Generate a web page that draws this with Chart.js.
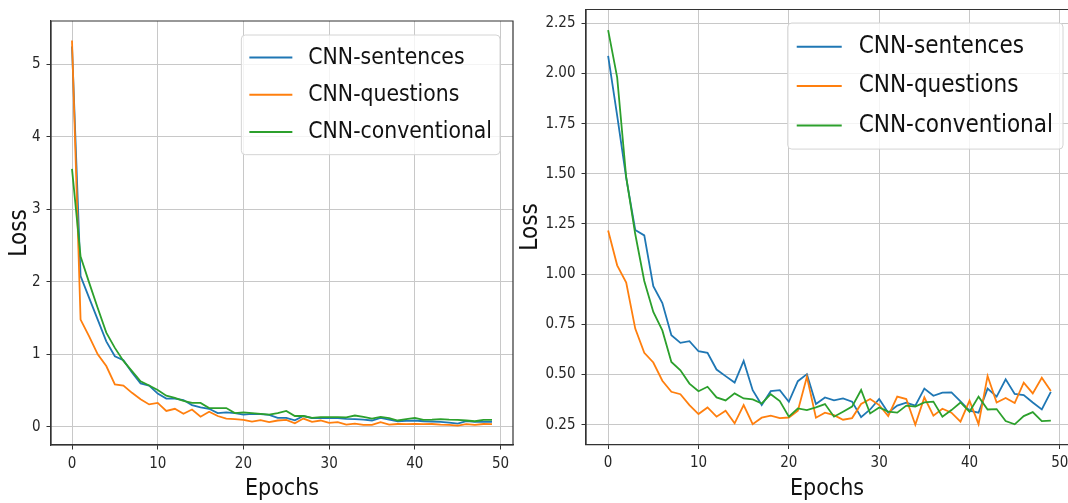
<!DOCTYPE html>
<html>
<head>
<meta charset="utf-8">
<script src="https://cdn.jsdelivr.net/npm/chart.js@4.4.1/dist/chart.umd.min.js"></script>
<style>
  html, body { margin: 0; padding: 0; background: #fff; overflow: hidden; }
  #wrap { position: relative; width: 1068px; height: 503px; overflow: hidden; }
  canvas { position: absolute; top: 0; }
</style>
</head>
<body>
<div id="wrap">
  <canvas id="lossLeft" width="534" height="503" style="left:0"></canvas>
  <canvas id="lossRight" width="553" height="503" style="left:515px"></canvas>
</div>
<script>
const epochs = [0, 1, 2, 3, 4, 5, 6, 7, 8, 9, 10, 11, 12, 13, 14, 15, 16, 17, 18, 19,
  20, 21, 22, 23, 24, 25, 26, 27, 28, 29, 30, 31, 32, 33, 34, 35, 36, 37, 38, 39,
  40, 41, 42, 43, 44, 45, 46, 47, 48, 49]

const seriesNames = ["CNN-sentences", "CNN-questions", "CNN-conventional"]

// left panel
const sentencesLeft = [5.25, 2.08, 1.78, 1.48, 1.18, 0.975, 0.92, 0.75, 0.6, 0.57,
  0.46, 0.39, 0.39, 0.37, 0.3, 0.27, 0.25, 0.19, 0.2, 0.19,
  0.17, 0.18, 0.175, 0.166, 0.124, 0.124, 0.09, 0.15, 0.12, 0.124,
  0.12, 0.12, 0.11, 0.106, 0.1, 0.088, 0.124, 0.1, 0.078, 0.083,
  0.088, 0.078, 0.074, 0.069, 0.06, 0.046, 0.078, 0.069, 0.069, 0.07]
const questionsLeft = [5.33, 1.48, 1.25, 1.0, 0.84, 0.585, 0.57, 0.47, 0.38, 0.31,
  0.33, 0.22, 0.25, 0.18, 0.24, 0.14, 0.21, 0.15, 0.115, 0.106,
  0.097, 0.074, 0.092, 0.065, 0.088, 0.097, 0.05, 0.115, 0.07, 0.088,
  0.055, 0.065, 0.032, 0.046, 0.028, 0.028, 0.065, 0.032, 0.04, 0.037,
  0.04, 0.037, 0.04, 0.032, 0.028, 0.018, 0.037, 0.028, 0.04, 0.037]
const conventionalLeft = [3.56, 2.35, 1.99, 1.64, 1.3, 1.09, 0.91, 0.77, 0.63, 0.57,
  0.51, 0.43, 0.4, 0.36, 0.33, 0.33, 0.26, 0.26, 0.26, 0.19,
  0.2, 0.19, 0.18, 0.17, 0.19, 0.22, 0.15, 0.15, 0.124, 0.134,
  0.134, 0.134, 0.13, 0.157, 0.138, 0.115, 0.138, 0.12, 0.088, 0.106,
  0.124, 0.097, 0.1, 0.106, 0.1, 0.097, 0.088, 0.078, 0.097, 0.097]

// right panel
const sentencesRight = [2.088, 1.79, 1.48, 1.22, 1.193, 0.94, 0.856, 0.696, 0.658, 0.666,
  0.616, 0.608, 0.525, 0.492, 0.46, 0.568, 0.422, 0.348, 0.417, 0.422,
  0.364, 0.467, 0.502, 0.353, 0.386, 0.371, 0.381, 0.365, 0.288, 0.326,
  0.378, 0.31, 0.345, 0.36, 0.345, 0.43, 0.394, 0.41, 0.411, 0.366,
  0.32, 0.31, 0.43, 0.39, 0.476, 0.403, 0.398, 0.361, 0.326, 0.414]
const questionsRight = [1.218, 1.044, 0.958, 0.729, 0.608, 0.56, 0.469, 0.414, 0.402, 0.348,
  0.303, 0.336, 0.29, 0.32, 0.257, 0.348, 0.253, 0.285, 0.295, 0.283,
  0.286, 0.32, 0.489, 0.285, 0.31, 0.298, 0.275, 0.283, 0.353, 0.378,
  0.348, 0.293, 0.39, 0.378, 0.25, 0.386, 0.295, 0.33, 0.31, 0.265,
  0.37, 0.253, 0.493, 0.361, 0.383, 0.358, 0.46, 0.406, 0.484, 0.418]
const conventionalRight = [2.216, 1.98, 1.483, 1.2, 0.966, 0.812, 0.72, 0.563, 0.521, 0.455,
  0.417, 0.439, 0.386, 0.371, 0.406, 0.381, 0.376, 0.356, 0.402, 0.368,
  0.29, 0.331, 0.323, 0.336, 0.353, 0.29, 0.315, 0.34, 0.423, 0.306,
  0.336, 0.315, 0.31, 0.345, 0.34, 0.361, 0.365, 0.29, 0.323, 0.361,
  0.315, 0.39, 0.326, 0.328, 0.268, 0.252, 0.293, 0.313, 0.268, 0.27]

const xTicks = [0, 10, 20, 30, 40, 50]
const yTicksLeft = [0, 1, 2, 3, 4, 5]
const yTicksRight = [0.25, 0.5, 0.75, 1.0, 1.25, 1.5, 1.75, 2.0, 2.25]

const colors = ["#1f77b4", "#ff7f0e", "#2ca02c"]
const labelFont = "'DejaVu Sans Condensed', 'DejaVu Sans'"

/**
 * Matplotlib style frame: spines around the plot area
 * (the right panel is cut off at the page edge, so its right spine is not drawn)
 */
const frame = {
  id: "frame",
  afterDraw(chart, args, opts) {
    const {ctx, chartArea: a} = chart
    ctx.save()
    ctx.strokeStyle = "#333"
    ctx.lineWidth = 1.2
    ctx.beginPath()
    ctx.moveTo(a.left, a.top)
    ctx.lineTo(a.right, a.top)
    if (opts.right !== false) ctx.lineTo(a.right, a.bottom)
    else ctx.moveTo(a.right, a.bottom)
    ctx.lineTo(a.left, a.bottom)
    ctx.lineTo(a.left, a.top)
    ctx.stroke()
    ctx.restore()
  }
}

/**
 * Legend drawn inside the plot area, in a rounded translucent box
 */
const boxLegend = {
  id: "boxLegend",
  afterDraw(chart, args, opts) {
    const {ctx, chartArea: a} = chart
    const sets = chart.data.datasets
    ctx.save()
    ctx.font = `${opts.size}px ${labelFont}`
    const textW = Math.max(...sets.map(d => ctx.measureText(d.label).width))
    const rowH = opts.size * 1.64
    const w = opts.textX + textW + opts.pad
    const h = rowH * sets.length + 8
    const x = a.right - opts.right - w
    const y = a.top + opts.top

    ctx.beginPath()
    ctx.roundRect(x, y, w, h, 4)
    ctx.fillStyle = "rgba(255,255,255,0.8)"
    ctx.fill()
    ctx.strokeStyle = "#d4d4d4"
    ctx.lineWidth = 1
    ctx.stroke()

    sets.forEach((d, i) => {
      const cy = y + 4 + rowH * i + rowH / 2
      ctx.strokeStyle = d.borderColor
      ctx.lineWidth = 2
      ctx.beginPath()
      ctx.moveTo(x + opts.handleX, cy)
      ctx.lineTo(x + opts.handleX + opts.handleLen, cy)
      ctx.stroke()
      ctx.fillStyle = "#111"
      ctx.textBaseline = "middle"
      ctx.textAlign = "left"
      ctx.fillText(d.label, x + opts.textX, cy)
    })
    ctx.restore()
  }
}

const makeDataset = (label, values, color, order) => ({
  label: label,
  data: values.map((v, i) => ({x: epochs[i], y: v})),
  borderColor: color,
  backgroundColor: color,
  borderWidth: 1.8,
  pointRadius: 0,
  tension: 0,
  order: order
})

const noEdgePadding = scale => {
  scale.paddingTop = 0
  scale.paddingBottom = 0
  scale.paddingLeft = 0
  scale.paddingRight = 0
}

const plotLoss = (ctx, series, cfg) => {
  new Chart(ctx, {
    type: "line",
    data: {
      datasets: series.map((s, i) => makeDataset(seriesNames[i], s, colors[i], 2 - i))
    },
    options: {
      responsive: false,
      animation: false,
      devicePixelRatio: 1,
      layout: {padding: {left: 0, right: cfg.padRight, top: cfg.padTop, bottom: 0}},
      plugins: {
        legend: {display: false},
        tooltip: {enabled: false},
        frame: {right: cfg.rightSpine},
        boxLegend: cfg.legend
      },
      scales: {
        x: {
          type: "linear",
          min: -2.45,
          max: cfg.xMax,
          afterBuildTicks: scale => { scale.ticks = xTicks.map(v => ({value: v})) },
          afterFit: scale => { scale.height = cfg.xHeight; noEdgePadding(scale) },
          ticks: {font: {family: labelFont, size: 15}, color: "#262626", padding: 5.5},
          grid: {color: "#c8c8c8", lineWidth: 1, tickColor: "#333", tickLength: 4.5},
          border: {color: "#333", width: 1.2},
          title: {
            display: true,
            text: "Epochs",
            font: {family: labelFont, size: 23},
            color: "#111",
            padding: {top: 0, bottom: 0}
          }
        },
        y: {
          min: cfg.yMin,
          max: cfg.yMax,
          afterBuildTicks: scale => { scale.ticks = cfg.yTicks.map(v => ({value: v})) },
          afterFit: scale => { scale.width = cfg.yWidth; noEdgePadding(scale) },
          ticks: {
            font: {family: labelFont, size: 15},
            color: "#262626",
            padding: 6,
            callback: v => cfg.yDigits ? v.toFixed(cfg.yDigits) : String(v)
          },
          grid: {color: "#c8c8c8", lineWidth: 1, tickColor: "#333", tickLength: 4.5},
          border: {color: "#333", width: 1.2},
          title: {
            display: true,
            text: "Loss",
            font: {family: labelFont, size: 24},
            color: "#111",
            padding: {top: cfg.titlePad, bottom: 0}
          }
        }
      }
    },
    plugins: [frame, boxLegend]
  })
}

plotLoss(document.getElementById("lossLeft"),
  [sentencesLeft, questionsLeft, conventionalLeft], {
    padRight: 21, padTop: 21, xHeight: 58, yWidth: 51, xMax: 51.45, rightSpine: true,
    yMin: -0.25, yMax: 5.6, yTicks: yTicksLeft, yDigits: 0, titlePad: 5,
    legend: {size: 22.7, right: 13, top: 14, handleX: 8, handleLen: 43, textX: 67, pad: 8}
  })

// the right panel runs past the page edge, so only up to x = 50.9 is visible
plotLoss(document.getElementById("lossRight"),
  [sentencesRight, questionsRight, conventionalRight], {
    padRight: 0, padTop: 9.5, xHeight: 58.5, yWidth: 71, xMax: 50.9, rightSpine: false,
    yMin: 0.1515, yMax: 2.3185, yTicks: yTicksRight, yDigits: 2, titlePad: 1,
    legend: {size: 24, right: 5, top: 13.5, handleX: 9, handleLen: 45, textX: 71, pad: 10}
  })
</script>
</body>
</html>
